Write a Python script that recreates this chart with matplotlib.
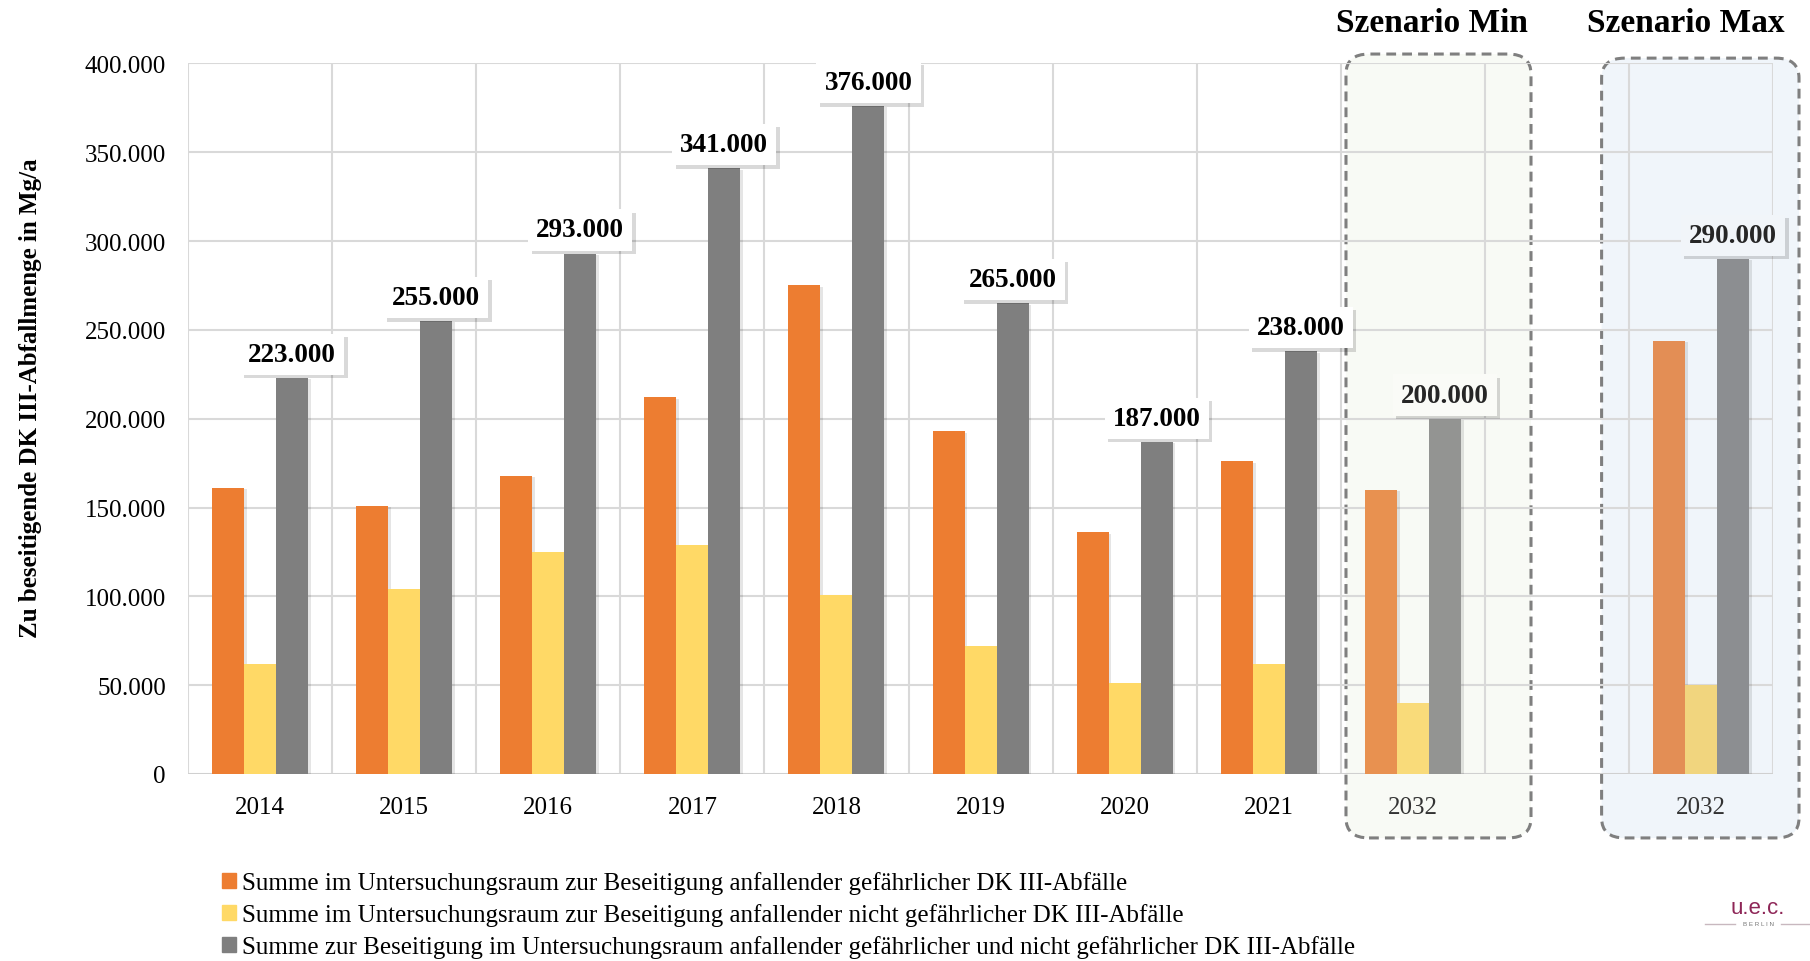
import numpy as np
import matplotlib.pyplot as plt
import matplotlib.patheffects as pe
from matplotlib.patches import FancyBboxPatch, Patch
from matplotlib.ticker import FuncFormatter, FixedLocator

plt.rcParams['font.family'] = ['Liberation Serif', 'DejaVu Serif']

# Werte in Mg/a, die 10. Position bleibt als Abstand zwischen den Szenarien leer
jahre = ['2014', '2015', '2016', '2017', '2018', '2019', '2020', '2021', '2032', '', '2032']
gefaehrlich = [161000, 151000, 168000, 212000, 275000, 193000, 136000, 176000, 160000, np.nan, 244000]
nicht_gefaehrlich = [62000, 104000, 125000, 129000, 101000, 72000, 51000, 62000, 40000, np.nan, 50000]
summe = [223000, 255000, 293000, 341000, 376000, 265000, 187000, 238000, 200000, np.nan, 290000]

legende = ['Summe im Untersuchungsraum zur Beseitigung anfallender gefährlicher DK III-Abfälle',
           'Summe im Untersuchungsraum zur Beseitigung anfallender nicht gefährlicher DK III-Abfälle',
           'Summe zur Beseitigung im Untersuchungsraum anfallender gefährlicher und nicht gefährlicher DK III-Abfälle']

# Farben: Ist-Jahre, Szenario Min, Szenario Max
farben_orange = ['#ED7D31'] * 8 + ['#E89150', '#E89150', '#E38E55']
farben_gelb = ['#FFD966'] * 8 + ['#F9DB7A', '#F9DB7A', '#F1D57E']
farben_grau = ['#7F7F7F'] * 8 + ['#939492', '#939492', '#8C8E91']
label_bg = ['white'] * 8 + ['#FAFBF7', '#FAFBF7', '#F1F5F9']

def fmt(v):
    return '0' if v == 0 else f'{v:,.0f}'.replace(',', '.')

fig = plt.figure(figsize=(18.1, 9.62), dpi=100)
ax = fig.add_axes([0.1039, 0.1944, 0.9796 - 0.1039, 0.933 - 0.1944])
ax.set_xlim(-0.5, 10.5)
ax.set_ylim(0, 400000)

x = np.arange(len(jahre))
bw = 0.222
schatten = [pe.SimplePatchShadow(offset=(2, -1), shadow_rgbFace='#000000', alpha=0.1), pe.Normal()]
for off, werte, cols in [(-bw, gefaehrlich, farben_orange),
                          (0, nicht_gefaehrlich, farben_gelb),
                          (bw, summe, farben_grau)]:
    bars = ax.bar(x + off, werte, width=bw, color=cols, zorder=3)
    for b in bars:
        b.set_path_effects(schatten)

# Beschriftung der Gesamtmengen
for i, v in enumerate(summe):
    if np.isnan(v):
        continue
    t = ax.annotate(fmt(v), (x[i] + bw, v), xytext=(0, 17), textcoords='offset points',
                    ha='center', va='center', fontsize=19.5, fontweight='bold',
                    color='black' if i < 8 else '#262626', zorder=6,
                    bbox=dict(boxstyle='square,pad=0.3', fc=label_bg[i], ec='none'))
    t.get_bbox_patch().set_path_effects([
        pe.SimplePatchShadow(offset=(2.5, -2.5), shadow_rgbFace='#000000', alpha=0.15), pe.Normal()])

# Gitter
ax.set_axisbelow(True)
ax.yaxis.set_major_locator(FixedLocator(np.arange(0, 400001, 50000)))
ax.yaxis.set_major_formatter(FuncFormatter(lambda v, p: fmt(v)))
ax.xaxis.set_major_locator(FixedLocator(x))
ax.set_xticklabels(jahre)
ax.xaxis.set_minor_locator(FixedLocator(np.arange(-0.5, 10.6, 1)))
ax.grid(axis='y', color='#D9D9D9', linewidth=1.5, zorder=1)
ax.grid(axis='x', which='minor', color='#D9D9D9', linewidth=1.5, zorder=1)
for s in ax.spines.values():
    s.set_visible(False)
ax.axhline(0, color='#D0D0D0', linewidth=2, zorder=2)
ax.tick_params(axis='both', which='both', length=0)
ax.tick_params(axis='y', labelsize=18, pad=16)
ax.tick_params(axis='x', labelsize=18, pad=16)
for lbl in ax.get_xticklabels()[8:]:
    lbl.set_color('#333333')

# Szenario-Rahmen
for (x0, x1, y1, fc) in [(7.536, 8.82, 405300, '#F8FAF5'),
                         (9.31, 10.68, 403000, '#F0F5FA')]:
    y0 = -36000
    box = FancyBboxPatch((x0, y0), x1 - x0, y1 - y0,
                         boxstyle='round,pad=0,rounding_size=0.16',
                         mutation_aspect=70000,
                         fc=fc, ec='#7F7F7F', lw=2.2, ls=(0, (3.2, 2.0)),
                         clip_on=False, zorder=0.2, transform=ax.transData)
    ax.add_patch(box)

fig.text(1432 / 1810, 1 - 24 / 962, 'Szenario Min', ha='center', va='center',
         fontsize=24, fontweight='bold')
fig.text(1686 / 1810, 1 - 24 / 962, 'Szenario Max', ha='center', va='center',
         fontsize=24, fontweight='bold')

fig.text(31 / 1810, 1 - 398 / 962, 'Zu beseitigende DK III-Abfallmenge in Mg/a',
         rotation=90, ha='center', va='center', fontsize=18, fontweight='bold')

# Legende
handles = [Patch(color=c) for c in ['#ED7D31', '#FFD966', '#7F7F7F']]
fig.legend(handles, legende, loc='upper left', bbox_to_anchor=(222 / 1810, 1 - 872 / 962),
           frameon=False, fontsize=18, handlelength=0.55, handleheight=0.55,
           handletextpad=0.25, labelspacing=0.36, borderpad=0, borderaxespad=0)

# Logo
fig.text(1758 / 1810, 1 - 908 / 962, 'u.e.c.', ha='center', va='center', fontsize=16,
         color='#8E2657', family=['Liberation Sans'])
fig.text(1758 / 1810, 1 - 925 / 962, 'B E R L I N', ha='center', va='center', fontsize=4.5,
         color='#777777', family=['Liberation Sans'])
fig.add_artist(plt.Line2D([1705 / 1810, 1735 / 1810], [1 - 925 / 962] * 2, color='#C8B8BF', lw=1))
fig.add_artist(plt.Line2D([1781 / 1810, 1810 / 1810], [1 - 925 / 962] * 2, color='#C8B8BF', lw=1))

fig.savefig('out.png', dpi=100)
